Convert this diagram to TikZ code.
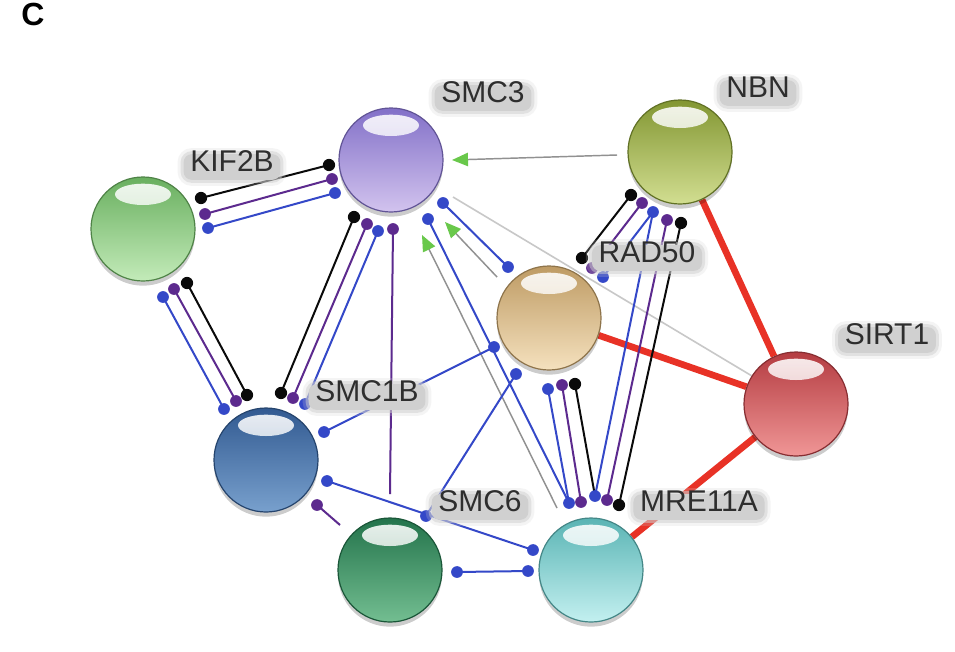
\documentclass[tikz,border=0pt]{standalone}
\usepackage{fontspec}
\setmainfont{Liberation Sans}
\usetikzlibrary{arrows.meta}
\pgfdeclarelayer{bg}
\pgfsetlayers{bg,main}
\definecolor{eblue}{RGB}{52,72,200}
\definecolor{epurple}{RGB}{92,42,142}
\definecolor{eblack}{RGB}{10,10,10}
\definecolor{egray}{RGB}{145,145,145}
\definecolor{elgray}{RGB}{200,200,200}
\definecolor{ered}{RGB}{232,50,38}
\definecolor{agreen}{RGB}{105,200,75}
\definecolor{lblgray}{RGB}{208,208,208}
\definecolor{kifD}{RGB}{105,175,95}
\definecolor{kifL}{RGB}{195,235,185}
\definecolor{smcthD}{RGB}{130,112,200}
\definecolor{smcthL}{RGB}{210,195,238}
\definecolor{nbnD}{RGB}{130,150,50}
\definecolor{nbnL}{RGB}{210,222,145}
\definecolor{radD}{RGB}{190,155,100}
\definecolor{radL}{RGB}{245,225,190}
\definecolor{sirD}{RGB}{180,60,65}
\definecolor{sirL}{RGB}{240,150,150}
\definecolor{smcbD}{RGB}{50,90,145}
\definecolor{smcbL}{RGB}{120,160,205}
\definecolor{smcsD}{RGB}{35,115,75}
\definecolor{smcsL}{RGB}{115,190,145}
\definecolor{mreD}{RGB}{90,180,180}
\definecolor{mreL}{RGB}{195,240,240}
\begin{document}
\begin{tikzpicture}[x=0.75pt,y=-0.75pt,
  lk/.style={line width=1.5pt},
  bl/.style={lk, draw=eblue},
  pu/.style={lk, draw=epurple},
  bk/.style={lk, draw=eblack},
  act/.style={draw=egray, line width=1.1pt, -{Triangle[length=12pt,width=10pt,color=agreen]}},
  faint/.style={draw=elgray, line width=1.2pt},
  redlink/.style={draw=ered, line width=5pt},
  ball/.style 2 args={circle, inner sep=0pt, minimum size=78pt, top color=#1, bottom color=#2,
    draw=#1!75!black, line width=0.9pt,
    path picture={\shade[top color=white, bottom color=#1!40!white, fill opacity=0.9]
      ([yshift=-13pt]path picture bounding box.north) ellipse [x radius=21pt, y radius=8pt];}},
  lbl/.style={font=\fontsize{22.5pt}{24pt}\selectfont, text=black!82, text height=0.72em, text depth=0pt,
    inner xsep=5pt, inner ysep=6pt, rounded corners=6pt, fill=lblgray,
    preaction={draw=lblgray, line width=9pt, draw opacity=0.22},
    preaction={draw=lblgray, line width=4.5pt, draw opacity=0.5}},
  shadowc/.style={fill=black, opacity=0.2}
]
\begin{pgfonlayer}{bg}
\fill[white] (0,0) rectangle (955,651);
\end{pgfonlayer}
\useasboundingbox (0,0) rectangle (955,651);

% sphere centres
\coordinate (cK) at (143,229);
\coordinate (cS3) at (391,160);
\coordinate (cN) at (680,152);
\coordinate (cR) at (549,318);
\coordinate (cSI) at (796,404);
\coordinate (cB) at (266,460);
\coordinate (cS6) at (390,570);
\coordinate (cM) at (591,570);

\foreach \c in {cK,cS3,cN,cR,cSI,cB,cS6,cM}
  \fill[shadowc] ([yshift=-3.5pt]\c) circle[radius=39pt];

\node[ball={kifD}{kifL}] (kif) at (cK) {};
\node[ball={smcthD}{smcthL}] (smc3) at (cS3) {};
\node[ball={nbnD}{nbnL}] (nbn) at (cN) {};
\node[ball={radD}{radL}] (rad) at (cR) {};
\node[ball={sirD}{sirL}] (sirt) at (cSI) {};
\node[ball={smcbD}{smcbL}] (smc1b) at (cB) {};
\node[ball={smcsD}{smcsL}] (smc6) at (cS6) {};
\node[ball={mreD}{mreL}] (mre) at (cM) {};

% connector end points
\coordinate (ksK1) at (201,198); \coordinate (ksS1) at (329,165);
\coordinate (ksK2) at (205,214); \coordinate (ksS2) at (332,179);
\coordinate (ksK3) at (208,228); \coordinate (ksS3) at (335,193);
\coordinate (kbK1) at (187,283); \coordinate (kbB1) at (247,395);
\coordinate (kbK2) at (174,289); \coordinate (kbB2) at (236,401);
\coordinate (kbK3) at (163,297); \coordinate (kbB3) at (224,409);
\coordinate (sbS1) at (354,217); \coordinate (sbB1) at (281,393);
\coordinate (sbS2) at (367,224); \coordinate (sbB2) at (293,398);
\coordinate (sbS3) at (378,231); \coordinate (sbB3) at (305,404);
\coordinate (ssS) at (393,229); \coordinate (ssE) at (390,494);
\coordinate (srS) at (443,203); \coordinate (srR) at (508,267);
\coordinate (smS) at (428,219); \coordinate (smM) at (569,503);
\coordinate (tipR) at (445,222); \coordinate (tailR) at (497,277);
\coordinate (tipM) at (422,235); \coordinate (tailM) at (557,508);
\coordinate (tipN) at (452,160); \coordinate (tailN) at (617,155);
\coordinate (fgS) at (453,197); \coordinate (fgE) at (752,376);
\coordinate (nrN1) at (631,195); \coordinate (nrR1) at (582,258);
\coordinate (nrN2) at (642,203); \coordinate (nrR2) at (592,268);
\coordinate (nrN3) at (653,212); \coordinate (nrR3) at (603,277);
\coordinate (nmN2) at (667,220); \coordinate (nmN3) at (681,223);
\coordinate (nmM1) at (595,496); \coordinate (nmM2) at (607,500); \coordinate (nmM3) at (619,505);
\coordinate (rmR1) at (548,389); \coordinate (rmM1) at (569,503);
\coordinate (rmR2) at (562,385); \coordinate (rmM2) at (581,502);
\coordinate (rmR3) at (575,384);
\coordinate (brB) at (324,432); \coordinate (brR) at (494,347);
\coordinate (bmB) at (327,481); \coordinate (bmM) at (533,550);
\coordinate (xrS) at (426,516); \coordinate (xrR) at (516,374);
\coordinate (xmS) at (457,572); \coordinate (xmM) at (528,571);
\coordinate (bxB) at (317,505); \coordinate (bxE) at (340,525);

\begin{pgfonlayer}{bg}
% faint and red links
\draw[faint] (fgS) -- (fgE);
\draw[redlink] (nbn) -- (sirt);
\draw[redlink] (rad) -- (sirt);
\draw[redlink] (sirt) -- (mre);
% KIF2B - SMC3
\draw[bk] (ksK1) -- (ksS1);
\draw[pu] (ksK2) -- (ksS2);
\draw[bl] (ksK3) -- (ksS3);
% KIF2B - SMC1B
\draw[bk] (kbK1) -- (kbB1);
\draw[pu] (kbK2) -- (kbB2);
\draw[bl] (kbK3) -- (kbB3);
% SMC3 - SMC1B
\draw[bk] (sbS1) -- (sbB1);
\draw[pu] (sbS2) -- (sbB2);
\draw[bl] (sbS3) -- (sbB3);
% SMC3 - SMC6
\draw[pu] (ssS) -- (ssE);
% SMC3 - RAD50 / MRE11A
\draw[bl] (srS) -- (srR);
\draw[bl] (smS) -- (smM);
\draw[act] (tailR) -- (tipR);
\draw[act] (tailM) -- (tipM);
\draw[act] (tailN) -- (tipN);
% NBN - RAD50
\draw[bk] (nrN1) -- (nrR1);
\draw[pu] (nrN2) -- (nrR2);
\draw[bl] (nrN3) -- (nrR3);
% NBN - MRE11A
\draw[bl] (nrN3) -- (nmM1);
\draw[pu] (nmN2) -- (nmM2);
\draw[bk] (nmN3) -- (nmM3);
% RAD50 - MRE11A
\draw[bl] (rmR1) -- (rmM1);
\draw[pu] (rmR2) -- (rmM2);
\draw[bk] (rmR3) -- (nmM1);
% blue singles
\draw[bl] (brB) -- (brR);
\draw[bl] (bmB) -- (bmM);
\draw[bl] (xrS) -- (xrR);
\draw[bl] (xmS) -- (xmM);
\draw[pu] (bxB) -- (bxE);
% dots
\foreach \p in {ksK1,ksS1,kbK1,kbB1,sbS1,sbB1,nrN1,nrR1,nmN3,nmM3,rmR3}
  \fill[eblack] (\p) circle[radius=4.6pt];
\foreach \p in {ksK2,ksS2,kbK2,kbB2,sbS2,sbB2,ssS,nrN2,nrR2,nmN2,nmM2,rmR2,rmM2,bxB}
  \fill[epurple] (\p) circle[radius=4.4pt];
\foreach \p in {ksK3,ksS3,kbK3,kbB3,sbS3,sbB3,srS,srR,smS,smM,nrN3,nrR3,nmM1,rmR1,brB,brR,bmB,bmM,xrS,xrR,xmS,xmM}
  \fill[eblue] (\p) circle[radius=4.4pt];
\end{pgfonlayer}

% labels
\node[lbl] (lSMC3) at (483,98) {SMC3};
\node[lbl] (lNBN) at (758,93) {NBN};
\node[lbl] (lKIF) at (232,167) {KIF2B};
\node[lbl] (lRAD) at (647,258) {RAD50};
\node[lbl] (lSIRT) at (887,340) {SIRT1};
\node[lbl] (lSMC1B) at (367,397) {SMC1B};
\node[lbl] (lSMC6) at (480,507) {SMC6};
\node[lbl] (lMRE) at (699,507) {MRE11A};
\node[font=\bfseries\fontsize{24pt}{26pt}\selectfont, text height=0.72em, text depth=0pt, inner sep=0pt] (panel) at (33,21) {C};
\end{tikzpicture}
\end{document}
